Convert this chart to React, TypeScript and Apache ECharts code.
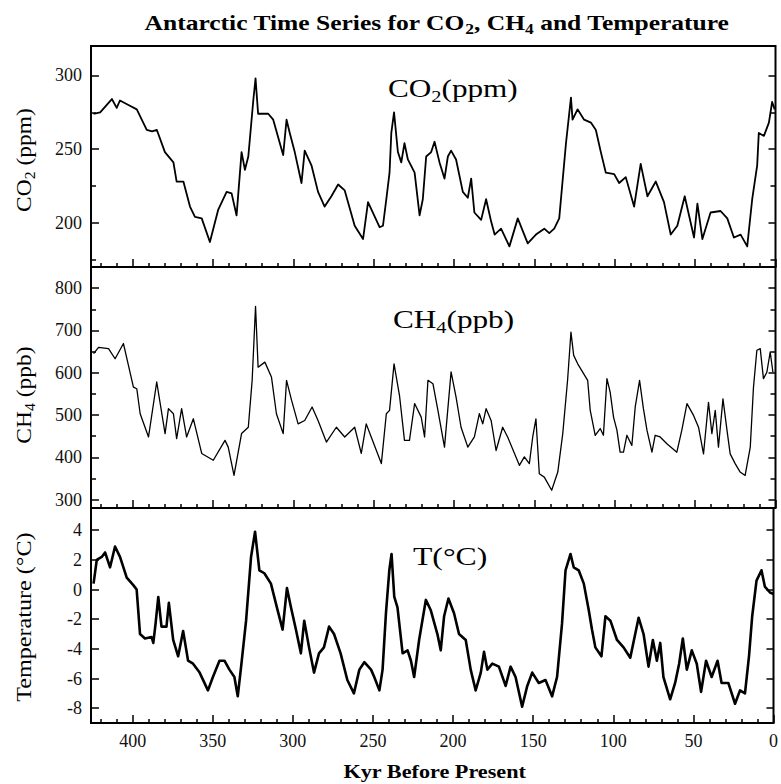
import React, { useEffect, useRef } from 'react';
import * as echarts from 'echarts';

const FONT = '"Liberation Serif", "Times New Roman", Times, serif';

// x axis (Kyr before present)
const X_MAX = 426;
const xMajorTicks = [0, 50, 100, 150, 200, 250, 300, 350, 400];
const xMinorTicks = [10, 20, 30, 40, 60, 70, 80, 90, 110, 120, 130, 140, 160, 170, 180, 190, 210, 220, 230, 240, 260, 270, 280, 290, 310, 320, 330, 340, 360, 370, 380, 390, 410, 420];

// CO2 panel
const co2Range = [170, 320];
const co2MajorTicks = [200, 250, 300];
const co2MinorTicks = [175, 225, 275];
const co2Series: [number, number][] = [
  [424.4, 274], [420.3, 275], [413, 284], [410, 278], [408, 283], [402.7, 280], [397.5, 277], [391.3, 263], [388, 262], [385, 263],
  [380, 248], [374.7, 241], [372.7, 228], [368.5, 228], [364.4, 211], [361.3, 204], [357.1, 203], [352, 187], [346.8, 209], [341.6, 221],
  [338.5, 220], [335.4, 205], [332.3, 248], [330.2, 236], [328.1, 245], [325, 283], [323.6, 298], [322, 274], [315.7, 274], [312.6, 270],
  [306.4, 246], [304.3, 270], [302.3, 261], [299.2, 248], [295, 227], [293, 249], [288.8, 239], [284.7, 221], [280.6, 211], [276.4, 218],
  [272.2, 226], [268.1, 222], [261.9, 198], [256.7, 189], [253.6, 214], [246.4, 197], [244.3, 198], [242.2, 216], [240.2, 234], [239.1, 261],
  [237.4, 275], [235, 248], [232.9, 241], [230.9, 254], [228.8, 243], [224.6, 234], [221.5, 205], [219.5, 216], [217.4, 245], [214.3, 248],
  [212.2, 255], [209.1, 241], [206, 230], [203.9, 245], [201.9, 249], [198.8, 243], [194.6, 221], [191.5, 217], [189.4, 230], [187.4, 207],
  [183.2, 202], [180.1, 216], [177, 201], [174.8, 192], [170.8, 196], [165.6, 184], [160.4, 203], [154.2, 186], [149.1, 192], [143.9, 196],
  [140.8, 193], [137.7, 196], [134.6, 203], [130.4, 254], [127.3, 285], [126.3, 270], [123.2, 277], [119.1, 270], [114.9, 268], [111.8, 263],
  [108.7, 248], [105.6, 234], [100.4, 233], [97.3, 227], [93.2, 231], [88, 211], [83.9, 240], [79.7, 218], [74.5, 228], [69.4, 214],
  [65.2, 192], [61.1, 198], [56.5, 218], [53.8, 205], [50.7, 190], [48.6, 213], [45.5, 189], [40.4, 207], [34.2, 208], [30, 203],
  [25.9, 190], [21.7, 192], [17.6, 184], [14.5, 216], [11.4, 239], [10.4, 261], [7.2, 259], [4.1, 268], [2.1, 282], [0.5, 277],
];

// CH4 panel
const ch4Range = [280, 850];
const ch4MajorTicks = [300, 400, 500, 600, 700, 800];
const ch4MinorTicks = [350, 450, 550, 650, 750];
const ch4Series: [number, number][] = [
  [424.4, 645], [421.3, 660], [415.1, 657], [411, 633], [405.8, 669], [399.6, 566], [397.5, 562], [395.4, 503], [390.2, 448], [385.1, 578],
  [379.9, 456], [377.8, 515], [374.7, 503], [372.7, 444], [369.6, 515], [366.5, 448], [362.3, 491], [357.1, 409], [349.9, 393], [342.6, 440],
  [340.6, 424], [337, 357], [332.3, 456], [328.1, 471], [325.7, 582], [323.6, 757], [322, 613], [317.8, 625], [313.7, 590], [310.6, 503],
  [306.4, 456], [304.3, 582], [301.2, 535], [297.1, 479], [293, 487], [288.4, 519], [284.7, 487], [279.5, 436], [273.3, 471], [268.1, 448],
  [261.9, 471], [257.8, 409], [254.7, 479], [251.6, 448], [245.3, 385], [242.2, 503], [240.2, 511], [237.4, 621], [234, 546], [230.9, 440],
  [227.8, 440], [224.6, 527], [220.5, 495], [218.4, 448], [216.3, 582], [213.2, 574], [210.1, 511], [206, 424], [201.9, 602], [198.8, 542],
  [195.7, 471], [191.5, 424], [187.4, 448], [184.3, 503], [182.2, 479], [180.1, 515], [177, 487], [173.9, 416], [169.8, 471], [166.7, 448],
  [159.4, 381], [156.3, 401], [153.2, 385], [151.1, 448], [149.1, 491], [147, 361], [143.9, 353], [139.3, 322], [135.5, 365], [132.4, 456],
  [129.4, 582], [127.3, 696], [125.6, 641], [123.1, 621], [116.9, 582], [115.3, 511], [112.2, 452], [109.1, 468], [107.1, 452], [104.9, 586],
  [102.9, 554], [100.8, 495], [98.7, 464], [96.7, 412], [94.6, 412], [92.5, 452], [89.4, 428], [87.3, 519], [84.6, 582], [82.2, 515],
  [80, 464], [76.9, 412], [74.9, 452], [71.8, 448], [67.6, 432], [61.4, 412], [58.3, 464], [55.1, 527], [51, 499], [47.9, 471],
  [44.8, 408], [41.7, 530], [39.6, 456], [37.5, 511], [35.5, 424], [32.7, 538], [30.2, 464], [28.2, 408], [25.1, 385], [22, 365],
  [18.9, 357], [15.7, 424], [13.7, 566], [11.6, 653], [9.5, 657], [7.5, 586], [5.4, 601], [3.3, 649], [1.6, 601],
];

// Temperature panel
const tempRange = [-9, 5.5];
const tempMajorTicks = [-8, -6, -4, -2, 0, 2, 4];
const tempSeries: [number, number][] = [
  [424.4, 0.4], [422.4, 2.0], [419.3, 2.2], [417.2, 2.5], [414.1, 1.5], [411, 2.9], [407.9, 2.2], [403.7, 0.8], [399.6, 0.3], [397.5, 0],
  [395.4, -3.0], [392.3, -3.3], [388.2, -3.2], [387.1, -3.6], [385.7, -2.3], [384, -0.5], [382, -2.5], [378.9, -2.5], [377.4, -0.9], [374.7, -3.4],
  [371.6, -4.5], [368.5, -2.8], [365.4, -4.8], [362.3, -5.0], [358.2, -5.6], [353, -6.8], [349.9, -5.9], [345.8, -4.8], [342.7, -4.8], [339.6, -5.4],
  [336.5, -5.9], [334.4, -7.2], [332.3, -5.2], [329.2, -2.1], [326.1, 2.2], [323.6, 3.9], [320.9, 1.3], [317.8, 1.1], [313.7, 0.4], [309.5, -1.4],
  [306.4, -2.7], [303.7, 0.1], [301.2, -1.2], [298.1, -2.7], [295, -4.3], [292.9, -2.1], [289.9, -3.9], [286.8, -5.6], [283.7, -4.3], [280.6, -3.9],
  [277.4, -2.5], [274.3, -3.0], [270.2, -4.3], [266, -6.1], [261.9, -7.0], [258.5, -5.4], [255.4, -4.9], [251.2, -5.4], [249.2, -5.9], [246, -6.8],
  [244, -5.4], [241.9, -1.6], [239.8, 1.3], [238.4, 2.4], [236.7, -0.5], [234.7, -1.2], [231.5, -4.3], [228.4, -4.1], [226.3, -4.8], [224.3, -5.9],
  [221.2, -3.4], [217, -0.7], [213.9, -1.4], [209.8, -3.0], [207.7, -4.1], [205.6, -1.8], [202.9, -0.6], [199.4, -1.6], [196.3, -3.0], [192.1, -3.4],
  [189, -5.4], [185.9, -6.8], [182.7, -5.6], [180.7, -4.2], [178.6, -5.4], [175.5, -5.0], [171.4, -5.2], [167.2, -6.5], [164.1, -5.2], [161, -5.9],
  [156.9, -7.9], [153.7, -6.5], [150.6, -5.6], [146.5, -6.3], [142.3, -6.1], [138.2, -7.2], [135.1, -5.9], [132, -2.3], [129.8, 1.3], [126.7, 2.4],
  [124.7, 1.5], [121.6, 1.3], [118.4, 0.4], [115.3, -1.4], [113.3, -2.7], [111.2, -3.9], [107.4, -4.5], [104.9, -1.8], [101.8, -2.1], [97.7, -3.4],
  [93.6, -3.9], [89.4, -4.6], [84.2, -1.9], [81.1, -3.0], [78, -5.2], [75.3, -3.4], [72.8, -4.8], [70.7, -3.6], [68.7, -5.9], [64.5, -7.4],
  [61.4, -6.3], [58.9, -5.0], [56.6, -3.3], [54.1, -5.4], [51, -4.1], [47.9, -5.0], [45.2, -6.9], [42.1, -4.8], [38.6, -5.9], [34.9, -4.8],
  [32.4, -6.3], [28.2, -6.3], [24, -7.7], [20.9, -6.8], [17.8, -7.0], [15.3, -4.5], [13.3, -1.8], [10.6, 0.6], [7.5, 1.3], [5.4, 0.2],
  [2.2, -0.2], [0, -0.3],
];

const GRIDS = [
  { top: 46, height: 221 },
  { top: 267, height: 241 },
  { top: 508, height: 215 },
];

type Part = { t: string; sub?: boolean };

let measureCtx: CanvasRenderingContext2D | null = null;
function measure(text: string, size: number, weight: string) {
  if (!measureCtx) measureCtx = document.createElement('canvas').getContext('2d');
  if (!measureCtx) return text.length * size * 0.5;
  measureCtx.font = `${weight} ${size}px ${FONT}`;
  return measureCtx.measureText(text).width;
}

// text with real lowered subscripts, built from individual text elements
function label(parts: Part[], opts: { x: number; y: number; size: number; weight?: string; align?: 'left' | 'center'; rotation?: number; scaleX?: number }) {
  const weight = opts.weight || 'normal';
  const subSize = Math.round(opts.size * 0.66);
  const dy = opts.size * 0.3;
  const widths = parts.map((p) => measure(p.t, p.sub ? subSize : opts.size, weight));
  const total = widths.reduce((a, b) => a + b, 0);
  let cx = opts.align === 'center' ? -total / 2 : 0;
  const children = parts.map((p, i) => {
    const el = {
      type: 'text', x: cx, y: p.sub ? dy : 0,
      style: {
        text: p.t, fontFamily: FONT, fontSize: p.sub ? subSize : opts.size, fontWeight: weight,
        fill: '#000', align: 'left', verticalAlign: 'middle',
      },
    };
    cx += widths[i];
    return el;
  });
  return { type: 'group', x: opts.x, y: opts.y, rotation: opts.rotation || 0, scaleX: opts.scaleX || 1, children };
}

export default function App() {
  const ref = useRef<HTMLDivElement>(null);

  useEffect(() => {
    if (!ref.current) return;
    const chart = echarts.init(ref.current, undefined, { renderer: 'svg' });

    const tickLine = { color: '#000', width: 1.5 };
    const labelStyle = { fontFamily: FONT, fontSize: 18, color: '#111' };
    const noLine = { show: false, onZero: false };

    const xAxes: any[] = [];
    GRIDS.forEach((_, g) => {
      xAxes.push({
        type: 'value', gridIndex: g, min: 0, max: X_MAX, inverse: true, position: 'bottom',
        axisLine: noLine, splitLine: { show: false },
        axisTick: { show: true, inside: true, length: 8, customValues: xMajorTicks, lineStyle: tickLine },
        axisLabel: { show: g === 2, customValues: xMajorTicks, margin: 9, ...labelStyle },
      });
      xAxes.push({
        type: 'value', gridIndex: g, min: 0, max: X_MAX, inverse: true, position: 'bottom',
        axisLine: noLine, splitLine: { show: false },
        axisTick: { show: true, inside: true, length: 4, customValues: xMinorTicks, lineStyle: tickLine },
        axisLabel: { show: false },
      });
    });

    const yAxes: any[] = [];
    const addY = (g: number, range: number[], major: number[], minor: number[] | null) => {
      const base = {
        type: 'value', gridIndex: g, min: range[0], max: range[1],
        axisLine: noLine, splitLine: { show: false },
      };
      const idx = yAxes.length;
      yAxes.push({
        ...base, position: 'left',
        axisTick: { show: true, inside: true, length: 8, customValues: major, lineStyle: tickLine },
        axisLabel: { show: true, customValues: major, margin: 9, ...labelStyle },
      });
      yAxes.push({
        ...base, position: 'right',
        axisTick: { show: true, inside: true, length: 7, customValues: major, lineStyle: tickLine },
        axisLabel: { show: false },
      });
      if (minor) {
        yAxes.push({
          ...base, position: 'left',
          axisTick: { show: true, inside: true, length: 5, customValues: minor, lineStyle: tickLine },
          axisLabel: { show: false },
        });
        yAxes.push({
          ...base, position: 'right',
          axisTick: { show: true, inside: true, length: 5, customValues: minor, lineStyle: tickLine },
          axisLabel: { show: false },
        });
      }
      return idx;
    };
    const yCo2 = addY(0, co2Range, co2MajorTicks, co2MinorTicks);
    const yCh4 = addY(1, ch4Range, ch4MajorTicks, ch4MinorTicks);
    const yTemp = addY(2, tempRange, tempMajorTicks, null);

    const lineSeries = (data: [number, number][], xi: number, yi: number, width: number) => ({
      type: 'line', data, xAxisIndex: xi, yAxisIndex: yi, showSymbol: false, symbol: 'none',
      lineStyle: { color: '#000', width, join: 'round' }, silent: true,
    });

    const option: any = {
      animation: false,
      backgroundColor: '#fff',
      grid: GRIDS.map((gr) => ({
        left: 91, width: 684.5, top: gr.top, height: gr.height,
        show: true, borderColor: '#000', borderWidth: 2, backgroundColor: 'transparent',
      })),
      xAxis: xAxes,
      yAxis: yAxes,
      series: [
        lineSeries(co2Series, 0, yCo2, 1.8),
        lineSeries(ch4Series, 2, yCh4, 1.3),
        lineSeries(tempSeries, 4, yTemp, 2.6),
      ],
      graphic: [
        label(
          [{ t: 'Antarctic Time Series for CO' }, { t: '2', sub: true }, { t: ', CH' }, { t: '4', sub: true }, { t: ' and Temperature' }],
          { x: 437, y: 23, size: 22, weight: 'bold', align: 'center', scaleX: 1.16 },
        ),
        label([{ t: 'CO' }, { t: '2', sub: true }, { t: '(ppm)' }], { x: 388, y: 88, size: 26, scaleX: 1.2 }),
        label([{ t: 'CH' }, { t: '4', sub: true }, { t: '(ppb)' }], { x: 393, y: 319, size: 26, scaleX: 1.2 }),
        label([{ t: 'T(°C)' }], { x: 413, y: 556, size: 26, scaleX: 1.22 }),
        label([{ t: 'CO' }, { t: '2', sub: true }, { t: ' (ppm)' }], { x: 24, y: 160, size: 21, align: 'center', rotation: Math.PI / 2, scaleX: 1.12 }),
        label([{ t: 'CH' }, { t: '4', sub: true }, { t: ' (ppb)' }], { x: 24, y: 395, size: 21, align: 'center', rotation: Math.PI / 2, scaleX: 1.12 }),
        label([{ t: 'Temperature (°C)' }], { x: 24, y: 617, size: 21, align: 'center', rotation: Math.PI / 2, scaleX: 1.15 }),
        label([{ t: 'Kyr Before Present' }], { x: 435, y: 772, size: 19, weight: 'bold', align: 'center', scaleX: 1.17 }),
      ],
    };

    chart.setOption(option);
    return () => chart.dispose();
  }, []);

  return (
    <div
      ref={ref}
      style={{ position: 'absolute', left: 0, top: 0, width: 781, height: 784, background: '#fff' }}
    />
  );
}
